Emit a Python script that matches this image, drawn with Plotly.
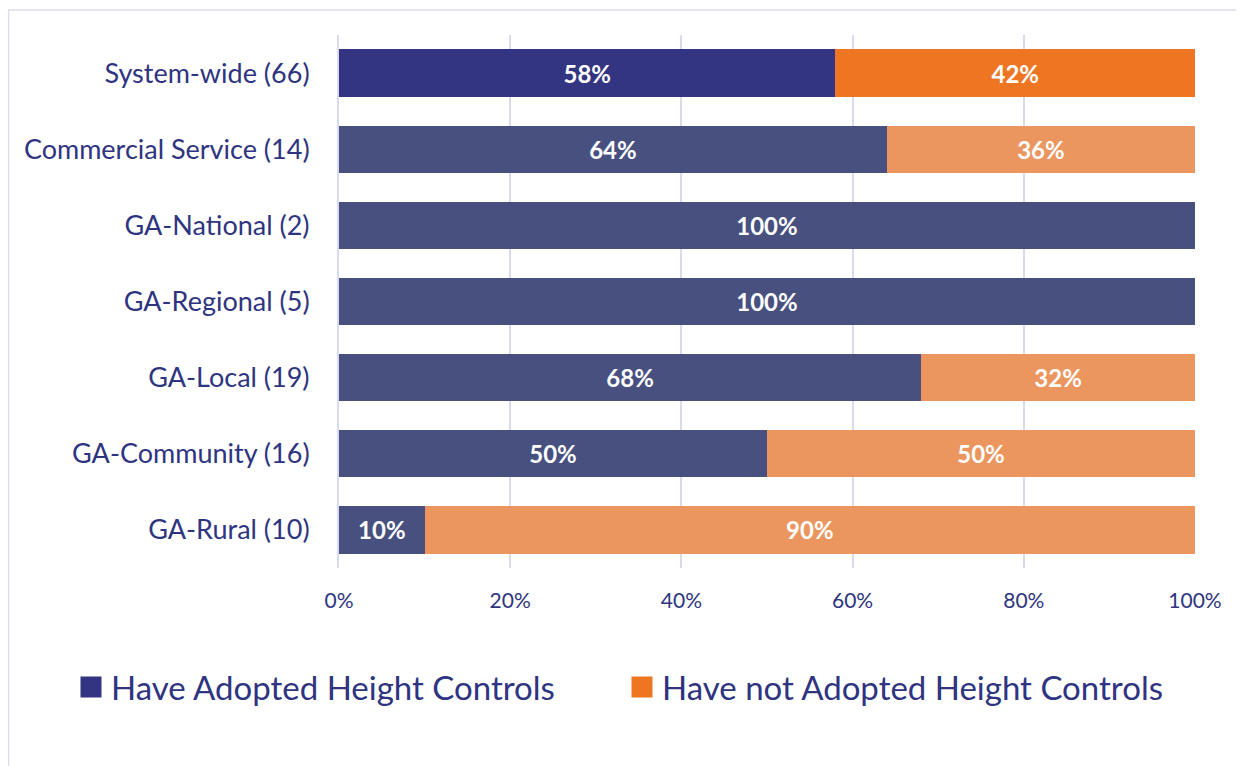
import plotly.graph_objects as go

categories = ["System-wide (66)", "Commercial Service (14)", "GA-National (2)",
              "GA-Regional (5)", "GA-Local (19)", "GA-Community (16)", "GA-Rural (10)"]
adopted = [58, 64, 100, 100, 68, 50, 10]
not_adopted = [42, 36, 0, 0, 32, 50, 90]
series_names = ["Have Adopted Height Controls", "Have not Adopted Height Controls"]
tick_vals = [0, 20, 40, 60, 80, 100]
tick_text = ["0%", "20%", "40%", "60%", "80%", "100%"]

adopted_colors = ["#343582"] + ["#47507F"] * 6
not_colors = ["#EE7623"] + ["#EB965E"] * 6

def labels(vals):
    return [f"{v}%" if v > 0 else "" for v in vals]

font_fam = "Lato, 'Open Sans', sans-serif"
text_col = "#2E3480"

W, H = 1236, 758
L, T = 331, 27
PW, PH = 856, 533

fig = go.Figure()
for vals, cols, name in [(adopted, adopted_colors, series_names[0]),
                         (not_adopted, not_colors, series_names[1])]:
    fig.add_trace(go.Bar(y=categories, x=vals, orientation="h", name=name,
                         marker=dict(color=cols, line=dict(width=0)),
                         text=labels(vals), textposition="inside", insidetextanchor="middle",
                         textfont=dict(color="white", size=24, family=font_fam, weight="bold"),
                         textangle=0, showlegend=False))

# legend entries with larger square swatches
for cols, name in [(adopted_colors, series_names[0]), (not_colors, series_names[1])]:
    fig.add_trace(go.Scatter(x=[None], y=[None], mode="markers", name=name,
                             marker=dict(symbol="square", size=16, color=cols[0],
                                         line=dict(color=cols[0], width=5)),
                             showlegend=True))

fig.update_layout(
    barmode="stack",
    bargap=0.38,
    width=W, height=H,
    margin=dict(l=L, r=W - L - PW, t=T, b=H - T - PH, autoexpand=False),
    paper_bgcolor="white", plot_bgcolor="white",
    font=dict(family=font_fam, color=text_col),
    xaxis=dict(range=[0, 100], tickvals=tick_vals, ticktext=tick_text,
               showgrid=True, gridcolor="#D9D9F0", gridwidth=1.5, zeroline=False,
               tickfont=dict(size=21, color=text_col), ticks="", ticklabelstandoff=18),
    yaxis=dict(categoryorder="array", categoryarray=categories[::-1],
               tickfont=dict(size=27, color=text_col), ticks="", showline=True,
               linecolor="#D9D9F0", linewidth=2, ticklabelstandoff=22),
    legend=dict(orientation="h", xref="paper", yref="paper",
                x=(63 - L) / PW, xanchor="left", y=(T + PH - 679) / PH, yanchor="middle",
                font=dict(size=33, color=text_col), itemsizing="trace",
                traceorder="normal", entrywidth=506, entrywidthmode="pixels"),
    showlegend=True,
    uniformtext=dict(mode=False),
)
fig.add_shape(type="rect", xref="paper", yref="paper",
              x0=(0.5 - L) / PW, x1=(1300 - L) / PW,
              y0=(T + PH - 770) / PH, y1=(T + PH - 2) / PH,
              line=dict(color="#DCDCF0", width=1.5), fillcolor="rgba(0,0,0,0)", layer="below")

fig.write_html("out.html")
